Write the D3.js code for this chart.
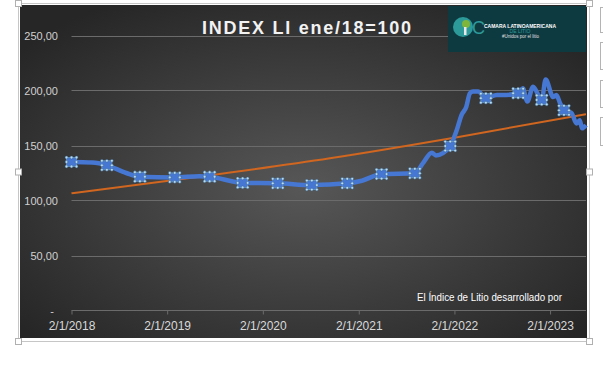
<!DOCTYPE html>
<html>
<head>
<meta charset="utf-8">
<script src="https://cdn.jsdelivr.net/npm/d3@7"></script>
<style>
  body { margin: 0; background: #ffffff; }
  svg { display: block; font-family: "Liberation Sans", Arial, sans-serif; }
</style>
</head>
<body>
<svg id="chart" width="603" height="376"></svg>
<script>
// Index values (ene/18 = 100)
var dates = ["2018-01-02", "2018-03-22", "2018-05-17", "2018-07-30", "2018-09-20", "2019-01-31",
    "2019-05-05", "2019-06-13", "2019-10-17", "2020-02-28", "2020-07-07", "2020-11-19",
    "2021-01-14", "2021-03-30", "2021-08-04", "2021-09-04", "2021-10-08", "2021-10-23",
    "2021-11-19", "2021-12-17", "2022-01-11", "2022-01-29", "2022-02-16", "2022-03-02",
    "2022-03-14", "2022-04-02", "2022-05-02", "2022-06-13", "2022-07-20", "2022-09-02",
    "2022-09-20", "2022-10-07", "2022-10-29", "2022-12-01", "2022-12-16", "2023-01-14",
    "2023-01-26", "2023-02-09", "2023-02-24", "2023-03-14", "2023-03-23", "2023-04-13",
    "2023-04-25", "2023-05-04", "2023-05-19"];
var values = [135, 134.5, 132, 125, 121.6, 121, 122, 121.6, 116, 115.6, 114, 115.6,
    118, 124, 124.7, 134, 143.5, 141, 143, 149.5, 164, 177.7, 185, 197.5,
    199, 199, 193, 196, 196, 197.5, 202, 190, 203.5, 191.4, 210, 194,
    196, 188.4, 182, 179, 180, 170, 173, 165.6, 168.6];
// points carrying the selection handles
var markerDates = ["2018-01-02", "2018-05-17", "2018-09-20", "2019-01-31", "2019-06-13", "2019-10-17",
    "2020-02-28", "2020-07-07", "2020-11-19", "2021-03-30", "2021-08-04", "2021-12-17",
    "2022-05-02", "2022-09-02", "2022-12-01", "2023-02-24"];
// exponential trend line
var trendDates = ["2018-01-02", "2019-05-05", "2020-09-14", "2022-01-23", "2023-05-19"];
var trendValues = [106.5, 121.6, 138.4, 158, 178.5];
// axes
var yTicks = [0, 50, 100, 150, 200, 250];
var yTickLabels = ["-", "50,00", "100,00", "150,00", "200,00", "250,00"];
var xTickDates = ["2018-01-02", "2019-01-02", "2020-01-02", "2021-01-02", "2022-01-02", "2023-01-02"];
var xStart = "2018-01-02", xEnd = "2023-05-19";

var parse = d3.timeParse("%Y-%m-%d");
var svg = d3.select("#chart");

// Chart background (dark radial gradient)
var defs = svg.append("defs");
var grad = defs.append("radialGradient").attr("id", "bg")
    .attr("cx", "50%").attr("cy", "55%").attr("r", "65%");
grad.append("stop").attr("offset", "0%").attr("stop-color", "#575757");
grad.append("stop").attr("offset", "100%").attr("stop-color", "#262626");

svg.append("rect").attr("x", 20).attr("y", 5).attr("width", 567).attr("height", 333)
    .attr("fill", "url(#bg)");

// Scales
var x = d3.scaleTime().domain([parse(xStart), parse(xEnd)]).range([71.5, 586]);
var y = d3.scaleLinear().domain([0, 250]).range([310.5, 35.5]);

// Gridlines
svg.append("g").selectAll("line").data(yTicks.slice(1)).enter().append("line")
    .attr("x1", 71.5).attr("x2", 586)
    .attr("y1", function(d) { return Math.round(y(d)) + 0.5; })
    .attr("y2", function(d) { return Math.round(y(d)) + 0.5; })
    .attr("stroke", "#6b6b6b").attr("stroke-width", 1);

// Y labels
svg.append("g").selectAll("text").data(yTicks).enter().append("text")
    .attr("x", function(d, i) { return i == 0 ? 54 : 58; })
    .attr("y", function(d) { return y(d) + 4; })
    .attr("text-anchor", "end")
    .attr("font-size", 11)
    .attr("fill", "#d0d0d0")
    .text(function(d, i) { return yTickLabels[i]; });

// X axis
var xAxis = d3.axisBottom(x)
    .tickValues(xTickDates.map(parse))
    .tickFormat(d3.timeFormat("%-d/%-m/%Y"))
    .tickSize(4)
    .tickPadding(7);
var gx = svg.append("g").attr("transform", "translate(0,310.5)").call(xAxis);
gx.select(".domain").attr("stroke", "#6b6b6b").attr("d", "M71.5,0H586");
gx.selectAll(".tick line").attr("stroke", "#6b6b6b");
gx.selectAll(".tick text").attr("fill", "#d9d9d9").attr("font-size", 12)
    .attr("font-family", "Liberation Sans, Arial, sans-serif");

// Trend line
var trendLine = d3.line()
    .x(function(d, i) { return x(parse(trendDates[i])); })
    .y(function(d) { return y(d); })
    .curve(d3.curveMonotoneX);
svg.append("path").datum(trendValues).attr("d", trendLine)
    .attr("fill", "none").attr("stroke", "#d0661f").attr("stroke-width", 2);

// Index line
var line = d3.line()
    .x(function(d, i) { return x(parse(dates[i])); })
    .y(function(d) { return y(d); })
    .curve(d3.curveMonotoneX);
svg.append("path").datum(values).attr("d", line)
    .attr("fill", "none").attr("stroke", "#4677d2").attr("stroke-width", 4.5)
    .attr("stroke-linejoin", "round");

// Selection handles on some points
var marks = svg.append("g").selectAll("g").data(markerDates).enter().append("g")
    .attr("transform", function(d) {
        var v = values[dates.indexOf(d)];
        return "translate(" + x(parse(d)) + "," + y(v) + ")";
    });
marks.append("rect").attr("x", -5).attr("y", -4.5).attr("width", 10).attr("height", 9)
    .attr("fill", "#4677d2").attr("stroke", "#6fa0d0").attr("stroke-width", 0.8);
var dots = [[-5, -4.5], [0, -4.5], [5, -4.5], [-5, 0], [5, 0], [-5, 4.5], [0, 4.5], [5, 4.5]];
marks.selectAll("circle").data(dots).enter().append("circle")
    .attr("cx", function(d) { return d[0]; }).attr("cy", function(d) { return d[1]; })
    .attr("r", 1.4).attr("fill", "#b9dcf2").attr("stroke", "#2e5c88").attr("stroke-width", 0.5);

// Title
svg.append("text").attr("x", 306.5).attr("y", 34).attr("text-anchor", "middle")
    .attr("font-size", 18).attr("font-weight", "bold").attr("fill", "#f2f2f2")
    .attr("textLength", 209).attr("lengthAdjust", "spacing")
    .text("INDEX LI ene/18=100");

// Footnote
svg.append("text").attr("x", 417).attr("y", 301)
    .attr("font-size", 10).attr("fill", "#ffffff")
    .attr("textLength", 145).attr("lengthAdjust", "spacingAndGlyphs")
    .text("El Índice de Litio desarrollado por");

// Logo box
var logo = svg.append("g");
logo.append("rect").attr("x", 448).attr("y", 6).attr("width", 138).attr("height", 46).attr("fill", "#0d3a41");
logo.append("circle").attr("cx", 463).attr("cy", 27).attr("r", 10).attr("fill", "#2d9a9a");
logo.append("circle").attr("cx", 466).attr("cy", 24).attr("r", 4).attr("fill", "#7fb53a");
logo.append("rect").attr("x", 464).attr("y", 27).attr("width", 2.5).attr("height", 8).attr("fill", "#e8e8e8");
logo.append("text").attr("x", 472).attr("y", 34).attr("font-size", 18).attr("fill", "#2d9a9a")
    .text("C");
logo.append("text").attr("x", 484).attr("y", 28).attr("font-size", 6).attr("font-weight", "bold")
    .attr("fill", "#ffffff").attr("textLength", 72).attr("lengthAdjust", "spacingAndGlyphs")
    .text("CAMARA LATINOAMERICANA");
logo.append("text").attr("x", 520).attr("y", 33).attr("text-anchor", "middle")
    .attr("font-size", 5).attr("fill", "#2d9a9a").text("DE LITIO");
logo.append("text").attr("x", 502).attr("y", 38).attr("font-size", 4.5)
    .attr("fill", "#e0e0e0").text("#Unidos por el litio");

// Selection frame around the chart
svg.append("rect").attr("x", 18.5).attr("y", 3.5).attr("width", 571).attr("height", 338)
    .attr("fill", "none").attr("stroke", "#c6c6c6").attr("stroke-width", 1);
var handles = [[18.5, 3.5], [589.5, 3.5], [18.5, 172], [589.5, 172],
    [18.5, 341.5], [589.5, 341.5]];
svg.append("g").selectAll("rect").data(handles).enter().append("rect")
    .attr("x", function(d) { return d[0] - 3; }).attr("y", function(d) { return d[1] - 3; })
    .attr("width", 6).attr("height", 6)
    .attr("fill", "#ffffff").attr("stroke", "#b0b0b0").attr("stroke-width", 1);

// Chart buttons at the right edge
var buttons = [[7, 25], [42, 27], [80, 27], [117, 28]];
svg.append("g").selectAll("rect").data(buttons).enter().append("rect")
    .attr("x", 600.5).attr("y", function(d) { return d[0] + 0.5; })
    .attr("width", 20).attr("height", function(d) { return d[1]; })
    .attr("fill", "#ffffff").attr("stroke", "#b4b4b4").attr("stroke-width", 1);
</script>
</body>
</html>
